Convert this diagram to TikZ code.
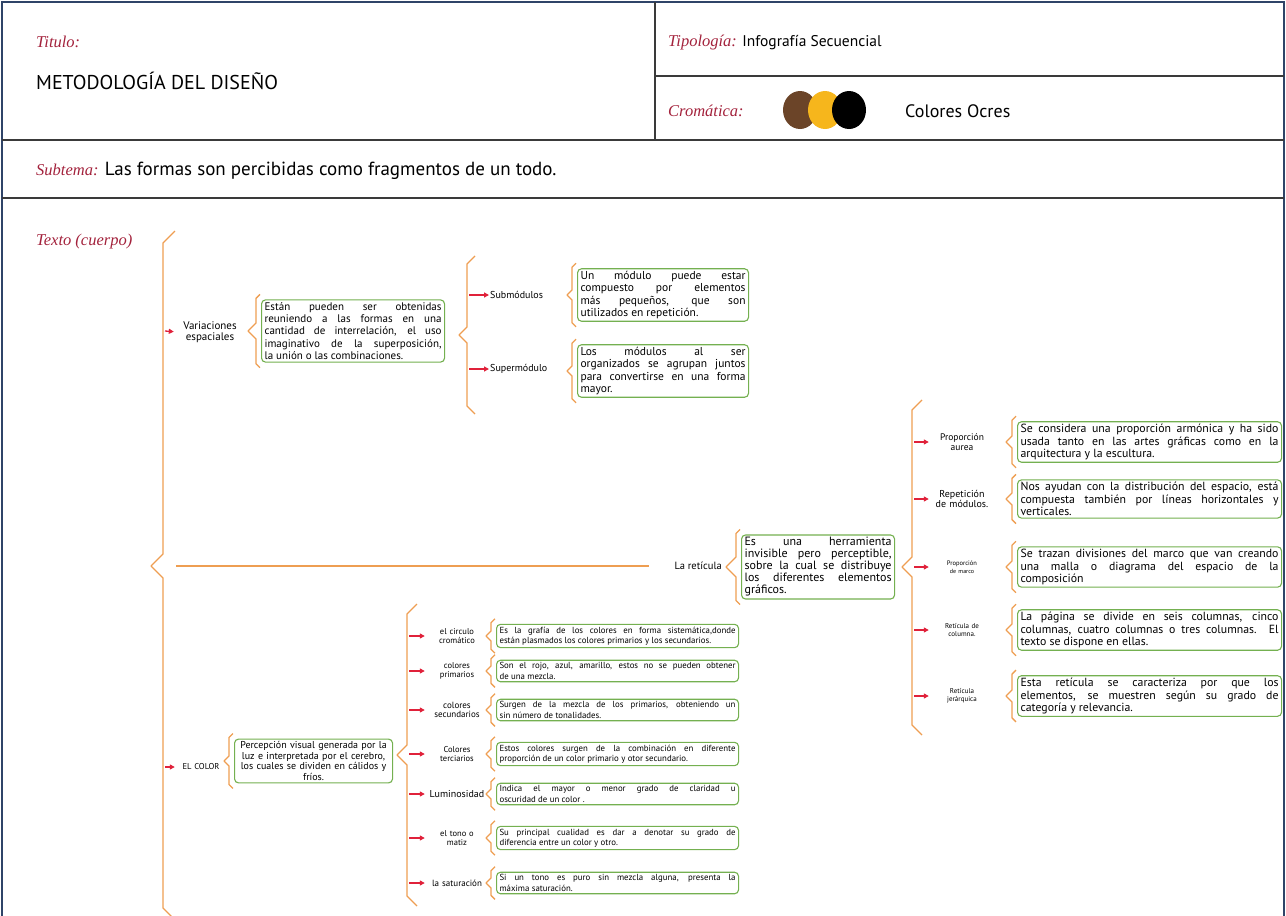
\documentclass[tikz,border=0pt]{standalone}
\usepackage{fontspec}
\setmainfont{PT Sans}
\newfontfamily\cabfont{Liberation Serif}
\usetikzlibrary{arrows.meta,positioning,calc,shapes.geometric}
\definecolor{Marco}{HTML}{2F4468}
\definecolor{Linea}{HTML}{3A3A3A}
\definecolor{Granate}{HTML}{A3223C}
\definecolor{Naranja}{HTML}{EE9E52}
\definecolor{Verde}{HTML}{74B050}
\definecolor{Rojo}{HTML}{E0213A}
\definecolor{Cafe}{HTML}{6B4428}
\definecolor{Ocre}{HTML}{F6B61C}
\hyphenpenalty=10000
\exhyphenpenalty=10000
% llave grande: x, arriba, abajo, punta, tamano
\newcommand{\llave}[5]{%
  \draw[llave] (#1+#5,#2-#5) -- (#1,#2) -- (#1,#4-#5) -- (#1-#5,#4)
    -- (#1,#4+#5) -- (#1,#3) -- (#1+#5,#3+#5);}
% llave pequena a la izquierda de una caja
\newcommand{\llavede}[2][5]{%
  \draw[llave] let \p1=(#2.north west),\p2=(#2.south west),\p3=(#2.west) in
    ({\x1-1pt},{\y1+5pt}) -- ({\x1-5pt},{\y1+1pt}) -- ({\x3-5pt},{\y3+#1pt})
    -- ({\x3-5pt-#1pt},\y3) -- ({\x3-5pt},{\y3-#1pt}) -- ({\x2-5pt},{\y2-1pt})
    -- ({\x2-1pt},{\y2-5pt});}
\begin{document}
\begin{tikzpicture}[
  x=1pt,y=-1pt,>={Triangle[length=5pt,width=5pt]},
  cab/.style={font=\cabfont\itshape\fontsize{16.5}{18}\selectfont,text=Granate,
    inner sep=0pt},
  dato/.style={font=\fontsize{19}{21}\selectfont,inner sep=0pt},
  caja/.style={draw=Verde,fill=white,rounded corners=4pt,line width=1.1pt,
    align=justify,inner xsep=3pt,inner ysep=2.5pt,
    font=\fontsize{11.5}{12.3}\selectfont},
  cajita/.style={caja,text width=236pt,anchor=west,
    font=\fontsize{8.8}{10.2}\selectfont},
  etiq/.style={align=center,inner sep=1pt,font=\fontsize{10}{10.5}\selectfont},
  llave/.style={draw=Naranja,line width=1.3pt,line join=round},
  flecha/.style={->,draw=Rojo,line width=1.3pt},
  circulo/.style={ellipse,minimum width=34pt,minimum height=38pt,inner sep=0pt}
]
\useasboundingbox (0,0) rectangle (1286,916);
% marco de la ficha
\draw[Marco,line width=2pt] (2,916) -- (2,2) -- (1284,2) -- (1284,916);
\draw[Linea,line width=1.6pt] (2,140) -- (1284,140) (2,198) -- (1284,198)
  (655,2) -- (655,140) (655,76) -- (1284,76);
% encabezado
\node[cab,anchor=west] (titulo) at (36,42) {Titulo:};
\node[dato,anchor=west,font=\fontsize{20}{22}\selectfont] (metodo) at (36,81) {METODOLOGÍA DEL DISEÑO};
\node[cab,anchor=west] (tipologia) at (668,43) {Tipología:};
\node[dato,base right=5pt of tipologia,font=\fontsize{15.5}{17}\selectfont] (infografia) {Infografía Secuencial};
\node[cab,anchor=west] (cromatica) at (668,111) {Cromática:};
\node[circulo,fill=Cafe] (cafe) at (800,110) {};
\node[circulo,fill=Ocre] (ocre) at (825,110) {};
\node[circulo,fill=black] (negro) at (849,110) {};
\node[dato,anchor=west,font=\fontsize{18}{20}\selectfont] (ocres) at (905,111) {Colores Ocres};
\node[cab,anchor=west] (subtema) at (36,170) {Subtema:};
\node[dato,base right=6pt of subtema] (formas) {Las formas son percibidas como fragmentos de un todo.};
\node[cab,anchor=west] (texto) at (36,242) {Texto (cuerpo)};
% llave principal
\llave{163}{243}{908}{566}{12}
\coordinate (pv) at (165,331);
\coordinate (pc) at (165,767);
\coordinate (pr) at (176,566);
% variaciones espaciales
\node[etiq,text width=62pt,font=\fontsize{11}{11.5}\selectfont] (variaciones) at (210,332) {Variaciones\\espaciales};
\draw[flecha,shorten >=4pt] (pv) -- (variaciones.west);
\node[caja,text width=177pt,anchor=west,font=\fontsize{11}{12.3}\selectfont] (obtenidas) at (261,331) {Están pueden ser obtenidas\linebreak reuniendo a las formas en una\linebreak cantidad de interrelación, el uso\linebreak imaginativo de la superposición,\linebreak la unión o las combinaciones.};
\llavede[8]{obtenidas}
\llave{467}{264}{406}{335}{8}
\coordinate (ps1) at (469,295);
\coordinate (ps2) at (469,369);
\node[etiq,anchor=west] (submodulos) at (489,295) {Submódulos};
\node[etiq,anchor=west] (supermodulo) at (489,369) {Supermódulo};
\draw[flecha] (ps1) -- (submodulos.west);
\draw[flecha] (ps2) -- (supermodulo.west);
\node[caja,text width=165pt,anchor=west] (pequenos) at (577,295) {Un módulo puede estar\linebreak compuesto por elementos\linebreak más pequeños, que son\linebreak utilizados en repetición.};
\llavede{pequenos}
\node[caja,text width=165pt,anchor=west] (mayor) at (577,371) {Los módulos al ser\linebreak organizados se agrupan juntos\linebreak para convertirse en una forma\linebreak mayor.};
\llavede{mayor}
% la reticula
\node[etiq,anchor=east,font=\fontsize{10.5}{11}\selectfont] (reticula) at (723,566) {La retícula};
\draw[llave,shorten >=24pt] (pr) -- (reticula.west);
\node[caja,text width=147pt,anchor=west,font=\fontsize{12}{12}\selectfont] (herramienta) at (741,567) {Es una herramienta\linebreak invisible pero perceptible,\linebreak sobre la cual se distribuye\linebreak los diferentes elementos\linebreak gráficos.};
\llavede[10]{herramienta}
\llave{912}{410}{725}{567}{10}
\coordinate (pr1) at (914,442);
\coordinate (pr2) at (914,499);
\coordinate (pr3) at (914,567);
\coordinate (pr4) at (914,630);
\coordinate (pr5) at (914,696);
\node[etiq,text width=64pt,font=\fontsize{9.5}{10}\selectfont] (aurea) at (962,442) {Proporción\\aurea};
\node[etiq,text width=64pt,font=\fontsize{10}{10}\selectfont] (repeticion) at (962,499) {Repetición\\de módulos.};
\node[etiq,text width=64pt,font=\fontsize{6.5}{7.5}\selectfont] (marco) at (962,567) {Proporción\\{\fontsize{6}{7}\selectfont de marco}};
\node[etiq,text width=64pt,font=\fontsize{7}{8}\selectfont] (columna) at (962,630) {Retícula de\\columna.};
\node[etiq,text width=64pt,font=\fontsize{7}{8}\selectfont] (jerarquica) at (962,696) {Retícula\\jerárquica};
\draw[flecha] (pr1) -- (aurea.west);
\draw[flecha] (pr2) -- (repeticion.west);
\draw[flecha] (pr3) -- (marco.west);
\draw[flecha] (pr4) -- (columna.west);
\draw[flecha] (pr5) -- (jerarquica.west);
\node[caja,text width=258pt,anchor=west,font=\fontsize{11.8}{12.3}\selectfont] (armonica) at (1017,442) {Se considera una proporción armónica y ha sido\linebreak usada tanto en las artes gráficas como en la\linebreak arquitectura y la escultura.};
\node[caja,text width=258pt,anchor=west,font=\fontsize{11.8}{12.3}\selectfont] (espacio) at (1017,499) {Nos ayudan con la distribución del espacio, está\linebreak compuesta también por líneas horizontales y\linebreak verticales.};
\node[caja,text width=258pt,anchor=west,font=\fontsize{11.8}{12.3}\selectfont] (malla) at (1017,567) {Se trazan divisiones del marco que van creando\linebreak una malla o diagrama del espacio de la\linebreak composición};
\node[caja,text width=258pt,anchor=west,font=\fontsize{11.8}{12.3}\selectfont] (columnas) at (1017,630) {La página se divide en seis columnas, cinco\linebreak columnas, cuatro columnas o tres columnas. El\linebreak texto se dispone en ellas.};
\node[caja,text width=258pt,anchor=west,font=\fontsize{11.8}{12.3}\selectfont] (relevancia) at (1017,696) {Esta retícula se caracteriza por que los\linebreak elementos, se muestren según su grado de\linebreak categoría y relevancia.};
\llavede[6]{armonica}
\llavede[6]{espacio}
\llavede[6]{malla}
\llavede[6]{columnas}
\llavede[6]{relevancia}
% el color
\node[etiq,text width=42pt,font=\fontsize{8.5}{9}\selectfont] (elcolor) at (201,767) {EL COLOR};
\draw[flecha,shorten >=4pt] (pc) -- (elcolor.west);
\node[caja,align=center,text width=152pt,anchor=west,font=\fontsize{10}{10.5}\selectfont] (percepcion) at (234,761) {Percepción visual generada por la\\luz e interpretada por el cerebro,\\los cuales se dividen en cálidos y\\fríos.};
\llavede{percepcion}
\llave{407}{614}{896}{755}{10}
\coordinate (pc1) at (409,636);
\coordinate (pc2) at (409,671);
\coordinate (pc3) at (409,710);
\coordinate (pc4) at (409,754);
\coordinate (pc5) at (409,794);
\coordinate (pc6) at (409,838);
\coordinate (pc7) at (409,883);
\node[etiq,text width=62pt,font=\fontsize{8.5}{9.5}\selectfont] (cromatico) at (457,636) {el circulo\\cromático};
\node[etiq,text width=62pt,font=\fontsize{8.5}{9.5}\selectfont] (primarios) at (457,671) {colores\\primarios};
\node[etiq,text width=62pt,font=\fontsize{9}{9.5}\selectfont] (secundarios) at (457,710) {colores\\secundarios};
\node[etiq,text width=62pt,font=\fontsize{8.5}{9.5}\selectfont] (terciarios) at (457,754) {Colores\\terciarios};
\node[etiq,text width=62pt,font=\fontsize{10}{10}\selectfont] (luminosidad) at (457,794) {Luminosidad};
\node[etiq,text width=62pt,font=\fontsize{8.5}{9.5}\selectfont] (tono) at (457,838) {el tono o\\matiz};
\node[etiq,text width=62pt,font=\fontsize{9}{9.5}\selectfont] (saturacion) at (457,883) {la saturación};
\draw[flecha] (pc1) -- (cromatico.west);
\draw[flecha] (pc2) -- (primarios.west);
\draw[flecha] (pc3) -- (secundarios.west);
\draw[flecha] (pc4) -- (terciarios.west);
\draw[flecha] (pc5) -- (luminosidad.west);
\draw[flecha] (pc6) -- (tono.west);
\draw[flecha] (pc7) -- (saturacion.west);
\node[cajita] (grafia) at (496,636) {Es la grafía de los colores en forma sistemática,donde\linebreak están plasmados los colores primarios y los secundarios.};
\node[cajita] (rojo) at (496,671) {Son el rojo, azul, amarillo, estos no se pueden obtener\linebreak de una mezcla.};
\node[cajita] (mezcla) at (496,710) {Surgen de la mezcla de los primarios, obteniendo un\linebreak sin número de tonalidades.};
\node[cajita] (combinacion) at (496,754) {Estos colores surgen de la combinación en diferente\linebreak proporción de un color primario y otor secundario.};
\node[cajita] (claridad) at (496,794) {Indica el mayor o menor grado de claridad u\linebreak oscuridad de un color .};
\node[cajita] (cualidad) at (496,838) {Su principal cualidad es dar a denotar su grado de\linebreak diferencia entre un color y otro.};
\node[cajita] (puro) at (496,883) {Si un tono es puro sin mezcla alguna, presenta la\linebreak máxima saturación.};
\llavede{grafia}
\llavede{rojo}
\llavede{mezcla}
\llavede{combinacion}
\llavede{claridad}
\llavede{cualidad}
\llavede{puro}
\end{tikzpicture}
\end{document}
